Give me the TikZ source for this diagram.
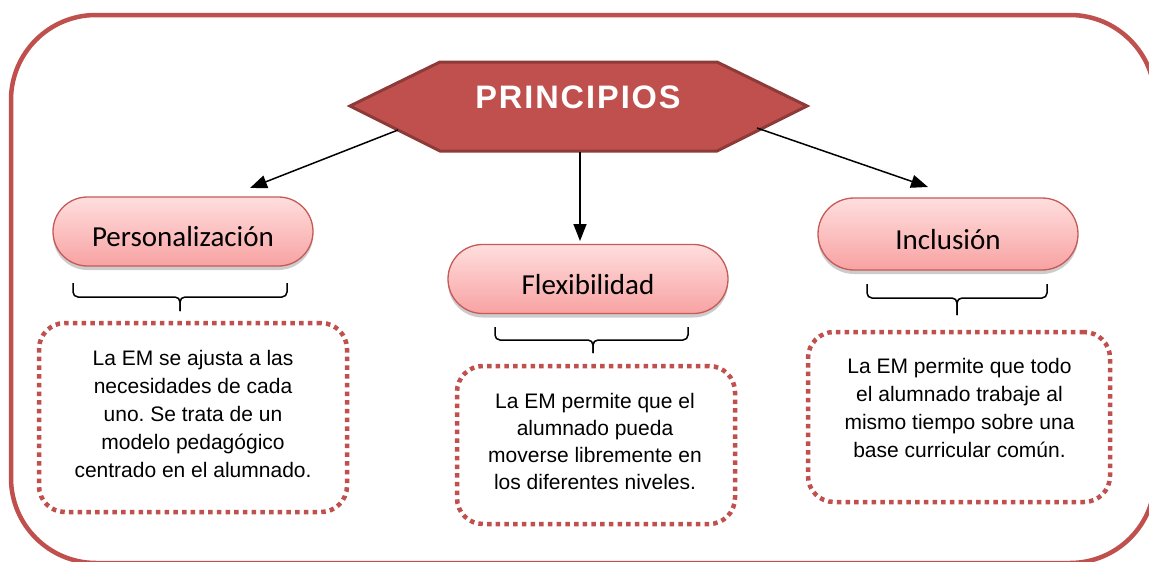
\documentclass[tikz,border=0pt]{standalone}
\usepackage{fontspec}
\setmainfont{Liberation Sans}
\newfontfamily\calib{Carlito}
\newfontfamily\hexfont[LetterSpace=6]{Liberation Sans}
\usetikzlibrary{shapes.misc,arrows.meta,shadows,calc}
\definecolor{accred}{HTML}{C0504D}
\definecolor{darkred}{HTML}{8E3A38}
\definecolor{pinktop}{HTML}{FFDEDE}
\definecolor{pinkbot}{HTML}{F8A2A2}
\definecolor{pillline}{HTML}{C55A57}
\frenchspacing
\begin{document}
\begin{tikzpicture}[x=1pt,y=-1pt,
 frame/.style={draw=accred, line width=4.5pt, rounded corners=85pt},
 hexshape/.style={fill=accred, draw=darkred, line width=3pt, line join=miter},
 hextext/.style={text=white, inner sep=0pt, font=\hexfont\bfseries\fontsize{32.5}{38}\selectfont},
 pill/.style={rounded rectangle, draw=pillline, line width=1.3pt, top color=pinktop, bottom color=pinkbot,
   minimum width=260pt, minimum height=69pt, inner sep=0pt, text height=30pt, text depth=0pt,
   font=\calib\fontsize{29}{35}\selectfont,
   drop shadow={shadow xshift=0pt, shadow yshift=-4pt, opacity=0.2, fill=black}},
 dotbox/.style={draw=accred, line width=4.5pt, dash pattern=on 4.5pt off 4.2pt, rounded corners=26pt, inner sep=0pt},
 boxtext/.style={align=center, inner sep=0pt, font=\fontsize{21}{28}\selectfont},
 arr/.style={line width=1.5pt, -{Triangle[length=17pt,width=13pt]}},
 bracestyle/.style={line width=1.5pt, rounded corners=5pt},
]
\useasboundingbox (0,0) rectangle (1149,562);
\fill[white] (0,0) rectangle (1149,562);
% outer frame
\draw[frame] (11,15) rectangle (1155,563);
% hexagon
\draw[hexshape] (350,106) -- (440,62) -- (717,62) -- (807,106) -- (717,151) -- (440,151) -- cycle;
\node[hextext] (hex) at (578,97) {PRINCIPIOS};
% pills
\node[pill] (pers) at (183,231.5) {Personalización};
\node[pill, minimum width=280pt] (flex) at (588,279) {Flexibilidad};
\node[pill, minimum height=72pt] (incl) at (948,234) {Inclusión};
% arrow ends
\coordinate (h1) at (398,130); \coordinate (t1) at (250,188);
\coordinate (h2) at (580,152); \coordinate (t2) at (580,241);
\coordinate (h3) at (757,128); \coordinate (t3) at (928,187);
\draw[arr] (h1) -- (t1);
\draw[arr] (h2) -- (t2);
\draw[arr] (h3) -- (t3);
% braces
\draw[bracestyle] (73,283) -- (73,297) -- (180,297) -- (180,311);
\draw[bracestyle] (287,283) -- (287,297) -- (180,297) -- (180,311);
\draw[bracestyle] (495,327) -- (495,340) -- (593,340) -- (593,353);
\draw[bracestyle] (688,327) -- (688,340) -- (593,340) -- (593,353);
\draw[bracestyle] (867,284) -- (867,298) -- (957,298) -- (957,315);
\draw[bracestyle] (1047,284) -- (1047,298) -- (957,298) -- (957,315);
% dotted boxes
\node[dotbox, minimum width=308pt, minimum height=189pt] (b1) at (193,417.5) {};
\node[dotbox, minimum width=278pt, minimum height=158pt] (b2) at (596,445) {};
\node[dotbox, minimum width=302pt, minimum height=170pt] (b3) at (959,417) {};
\node[boxtext] (t1txt) at (193,413.5) {La EM se ajusta a las\\necesidades de cada\\uno. Se trata de un\\modelo pedagógico\\centrado en el alumnado.};
\node[boxtext, font=\fontsize{21}{27}\selectfont] (t2txt) at (595,441.5) {La EM permite que el\\alumnado pueda\\moverse libremente en\\los diferentes niveles.};
\node[boxtext] (t3txt) at (959.5,407.5) {La EM permite que todo\\el alumnado trabaje al\\mismo tiempo sobre una\\base curricular común.};
\end{tikzpicture}
\end{document}
